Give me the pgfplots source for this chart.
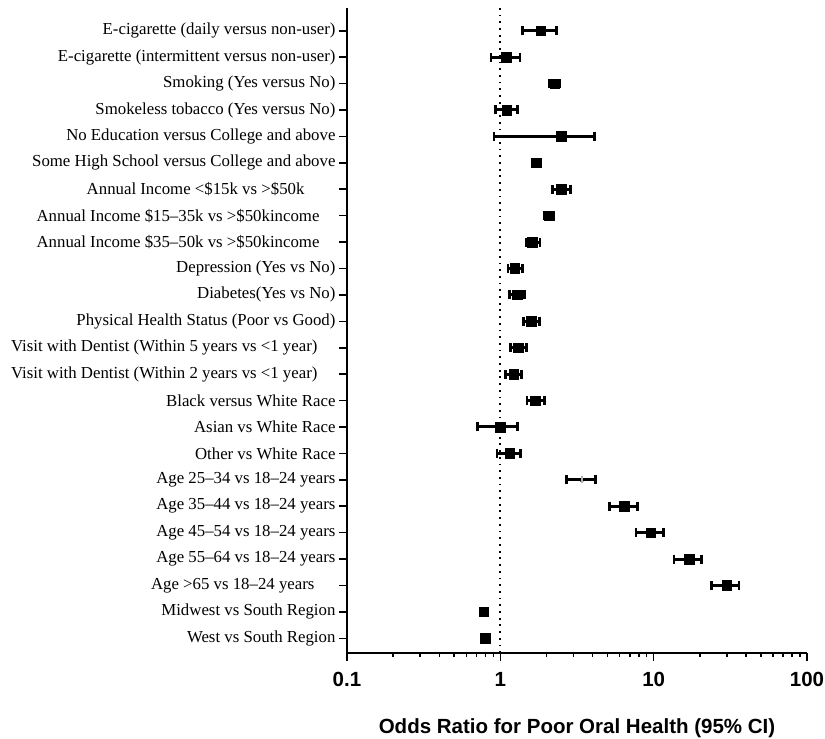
\documentclass[border=0pt]{standalone}
\usepackage{pgfplots}
\usepackage{pgfplotstable}
\pgfplotsset{compat=1.18}
\usetikzlibrary{calc}
\usepackage{fontspec}
\setmainfont{Liberation Serif}
\setsansfont{Liberation Sans}

\pgfplotstableread{
y  or    lo    hi
24 1.83  1.39  2.32
23 1.09  0.87  1.34
22 2.26  2.10  2.43
21 1.10  0.93  1.29
20 2.50  0.91  4.11
19 1.72  1.62  1.83
18 2.50  2.18  2.87
17 2.08  1.94  2.22
16 1.62  1.47  1.81
15 1.24  1.12  1.39
14 1.29  1.15  1.44
13 1.59  1.41  1.80
12 1.31  1.17  1.48
11 1.22  1.08  1.37
10 1.69  1.49  1.94
9  1.00  0.71  1.30
8  1.15  0.95  1.35
7  3.40  2.70  4.16
6  6.43  5.13  7.82
5  9.55  7.66  11.6
4  17.0  13.6  20.5
3  30.0  23.9  36.1
2  0.78  0.75  0.82
1  0.80  0.77  0.84
}\ortable

\begin{document}
\begin{tikzpicture}
\begin{axis}[
  scale only axis,
  width=460pt, height=645pt,
  xmode=log,
  xmin=0.1, xmax=100,
  ymin=0.444, ymax=24.86,
  axis x line*=bottom,
  axis y line*=left,
  axis line style={line width=2pt},
  xtick={0.1,1,10,100},
  xticklabels={0.1,1,10,100},
  tick align=outside,
  major tick length=8pt,
  minor tick length=4pt,
  every tick/.style={black, line width=1.6pt},
  ytick={1,...,24},
  yticklabels={
    West vs South Region,
    Midwest vs South Region,
    Age >65 vs 18--24 years\hspace*{21pt},
    Age 55--64 vs 18--24 years,
    Age 45--54 vs 18--24 years,
    Age 35--44 vs 18--24 years,
    Age 25--34 vs 18--24 years,
    Other vs White Race,
    Asian vs White Race,
    Black versus White Race,
    Visit with Dentist (Within 2 years vs <1 year)\hspace*{18pt},
    Visit with Dentist (Within 5 years vs <1 year)\hspace*{18pt},
    Physical Health Status (Poor vs Good),
    Diabetes(Yes vs No),
    Depression (Yes vs No),
    Annual Income \$35--50k vs >\$50kincome\hspace*{16pt},
    Annual Income \$15--35k vs >\$50kincome\hspace*{16pt},
    Annual Income <\$15k vs >\$50k\hspace*{31pt},
    Some High School versus College and above,
    No Education versus College and above,
    Smokeless tobacco (Yes versus No),
    Smoking (Yes versus No),
    E-cigarette (intermittent versus non-user),
    E-cigarette (daily versus non-user)
  },
  yticklabel style={font=\fontsize{16.8}{20}\selectfont},
  xticklabel style={font=\fontsize{20.5}{24}\selectfont\sffamily\bfseries, yshift=-8pt},
  xlabel={Odds Ratio for Poor Oral Health (95\% CI)},
  xlabel style={font=\fontsize{20.5}{24}\selectfont\sffamily\bfseries, yshift=-25pt},
  clip=false,
]
\coordinate (O) at (rel axis cs:0,0);
\draw[black, line width=1.8pt, dash pattern=on 1.8pt off 4.9pt]
  (axis cs:1,0.444) -- (axis cs:1,24.86);
\addplot[black, only marks, mark=none,
  error bars/.cd, x dir=both, x explicit,
  error bar style={line width=3pt, solid, black},
  error mark=|, error mark options={line width=2.6pt, mark size=4.5pt, black}]
  table[x=or, y=y,
    x error plus expr=\thisrow{hi}-\thisrow{or},
    x error minus expr=\thisrow{or}-\thisrow{lo}] {\ortable};
\addplot[black, only marks, mark=square*, mark size=4.8pt,
  skip coords between index={17}{18}]
  table[x=or, y=y] {\ortable};
\addplot[gray!60, only marks, mark=|, mark size=3.5pt, mark options={line width=1.6pt, gray!60},
  y filter/.expression={y==7 ? y : nan}]
  table[x=or, y=y] {\ortable};
\end{axis}
\pgfresetboundingbox
\path ($(O)+(-347pt,-86pt)$) rectangle ($(O)+(478pt,653pt)$);
\end{tikzpicture}
\end{document}
